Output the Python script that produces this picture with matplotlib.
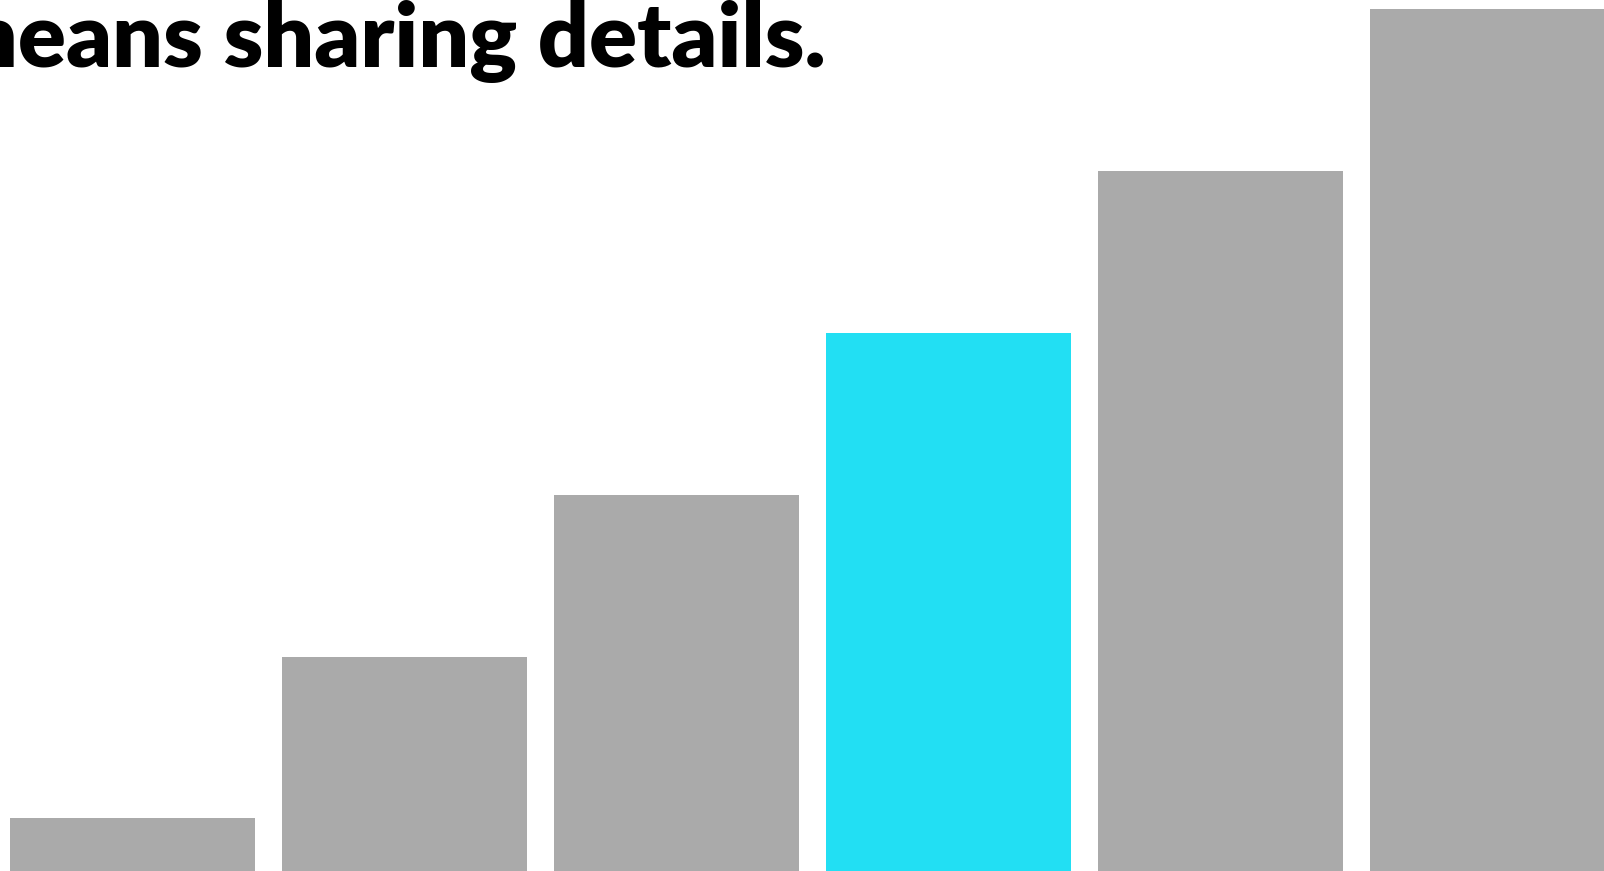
import matplotlib

matplotlib.use("Agg")
import matplotlib.pyplot as plt

# bar values (staircase), 4th bar highlighted
categories = ["A", "B", "C", "D", "E", "F"]
values = [1, 2, 3, 4, 5, 6]
highlight = "D"
title = "means sharing details."

GRAY = "#aaaaaa"
CYAN = "#22dff3"

W, H = 1604, 871
fig = plt.figure(figsize=(W / 100, H / 100), dpi=100)
ax = fig.add_axes([0, 0, 1, 1])

xs = list(range(len(categories)))
colors = [CYAN if c == highlight else GRAY for c in categories]
ax.bar(xs, values, width=0.9, color=colors, linewidth=0)

ax.set_xlim(-0.487, 5.41)
ax.set_ylim(0.675, 6.058)
ax.axis("off")

# title is cropped at the left in the reference; fit the size so the visible part spans the same width
fam = ["Lato", "DejaVu Sans"]
txt = fig.text(826 / W, 1 - 67 / H, title, ha="right", va="baseline",
               fontsize=60, fontweight="heavy", family=fam)
probe = fig.text(0, 0, title[1:], fontsize=60, fontweight="heavy",
                 family=fam, alpha=0)
r = fig.canvas.get_renderer()
w = probe.get_window_extent(r).width
txt.set_fontsize(60 * 808 / w)
probe.remove()

fig.savefig("out.png", dpi=100)
